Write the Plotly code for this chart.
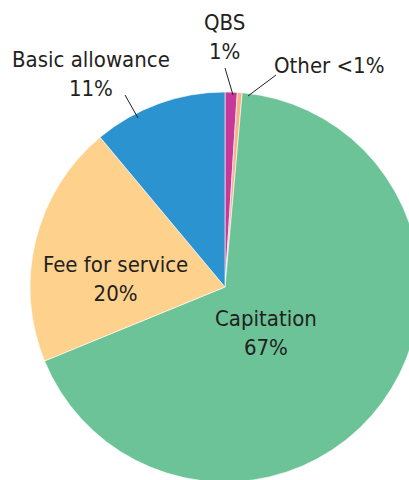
import plotly.graph_objects as go

# Share of payments by funding stream (clockwise from 12 o'clock)
labels = ["QBS", "Other", "Capitation", "Fee for service", "Basic allowance"]
values = [1, 0.4, 67, 20, 11]
shown = ["1%", "<1%", "67%", "20%", "11%"]
colors = ["#c8379a", "#f9b186", "#6cc398", "#fed18c", "#2c93d1"]

FONT = "DejaVu Sans Condensed, Liberation Sans Narrow, sans-serif"
INK = "#231f20"
FS = 22

# canvas geometry (pixels)
W, H = 440, 500
L, T, SIDE = 30, 92, 390
R, B = W - L - SIDE, H - T - SIDE


def px(x, y):
    """pixel position -> paper coordinates of the plotting area"""
    return (x - L) / SIDE, (T + SIDE - y) / SIDE


fig = go.Figure(
    go.Pie(
        labels=labels,
        values=values,
        sort=False,
        direction="clockwise",
        rotation=0,
        textinfo="none",
        hoverinfo="label+percent",
        marker=dict(colors=colors, line=dict(color="white", width=0.6)),
        showlegend=False,
        domain=dict(x=[0, 1], y=[0, 1]),
    )
)

# label anchors (pixel centres) and layout of each label
label_spec = {
    "Basic allowance": ((91, 74), "{l}<br>{p}"),
    "QBS": ((224, 37), "{l}<br>{p}"),
    "Other": ((329, 65), "{l} {p}"),
    "Fee for service": ((115, 279), "{l}<br>{p}"),
    "Capitation": ((266, 333), "{l}<br>{p}"),
}
for lab, pct in zip(labels, shown):
    (cx, cy), fmt = label_spec[lab]
    x, y = px(cx, cy)
    fig.add_annotation(
        x=x, y=y, xref="paper", yref="paper",
        text=fmt.format(l=lab, p=pct), showarrow=False,
        xanchor="center", yanchor="middle", align="center",
        font=dict(family=FONT, size=FS, color=INK),
    )

# leader lines for the labels placed outside the pie
leaders = [((125, 95), (138, 118)), ((225, 68), (233, 95)), ((276, 75), (248, 96))]
for (x0, y0), (x1, y1) in leaders:
    a0, b0 = px(x0, y0)
    a1, b1 = px(x1, y1)
    fig.add_shape(type="line", xref="paper", yref="paper",
                  x0=a0, y0=b0, x1=a1, y1=b1,
                  line=dict(color=INK, width=1))

fig.update_layout(
    width=W, height=H,
    margin=dict(l=L, r=R, t=T, b=B, pad=0),
    paper_bgcolor="white", plot_bgcolor="white",
    font=dict(family=FONT, color=INK),
)

fig.write_html(
    "out.html",
    config={"displayModeBar": False},
    post_script="document.documentElement.style.overflow='hidden';"
                "document.body.style.overflow='hidden';document.body.style.margin='0';",
)
